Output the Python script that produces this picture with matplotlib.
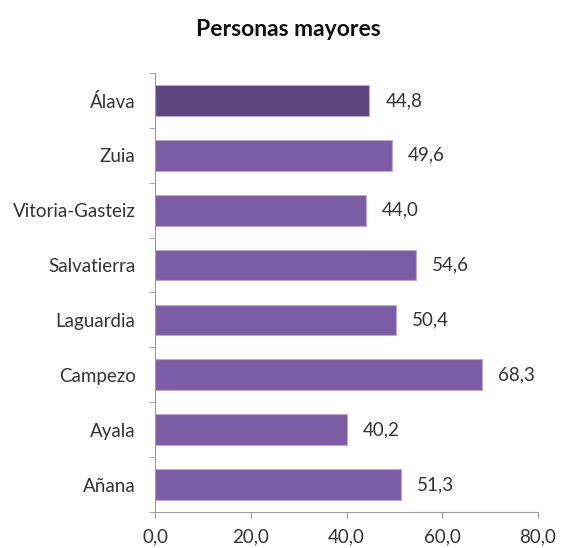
import matplotlib
matplotlib.use("Agg")
import matplotlib.pyplot as plt

categories = ["Álava", "Zuia", "Vitoria-Gasteiz", "Salvatierra", "Laguardia",
              "Campezo", "Ayala", "Añana"]
values = [44.8, 49.6, 44.0, 54.6, 50.4, 68.3, 40.2, 51.3]
xticks = [0, 20, 40, 60, 80]

plt.rcParams["font.family"] = ["Lato", "DejaVu Sans"]

fig = plt.figure(figsize=(5.61, 5.48), dpi=100)
ax = fig.add_axes([0.2763, 0.0657, 0.6827, 0.8011])

n = len(categories)
ypos = list(range(n))[::-1]
colors = ["#5e4680"] + ["#7d5ca6"] * (n - 1)
ax.barh(ypos, values, height=0.56, color=colors, edgecolor="#b9a8d0", linewidth=0.8)

for y, v in zip(ypos, values):
    ax.text(v + 3.3, y, f"{v:.1f}".replace(".", ","), va="center", ha="left",
            fontsize=13.5, color="#333333")

ax.set_xlim(0, 80)
ax.set_ylim(-0.5, n - 0.5)
ax.set_xticks(xticks)
ax.set_xticklabels([f"{t:.1f}".replace(".", ",") for t in xticks], fontsize=13.5, color="#333333")
ax.set_yticks(ypos)
ax.set_yticklabels(categories, fontsize=13.5, color="#333333")
ax.set_yticks([i - 0.5 for i in range(n + 1)], minor=True)
ax.tick_params(axis="y", which="major", length=0, pad=14)
ax.tick_params(axis="y", which="minor", length=4, direction="out", color="#999999")
ax.tick_params(axis="x", length=4, direction="out", color="#999999", pad=7.5)

for s in ["top", "right"]:
    ax.spines[s].set_visible(False)
for s in ["left", "bottom"]:
    ax.spines[s].set_color("#999999")
    ax.spines[s].set_linewidth(0.8)

fig.text(0.514, 0.947, "Personas mayores", ha="center", va="center",
         fontsize=16.5, fontweight="bold", color="#111111")

fig.savefig("out.png", dpi=100, facecolor="white")
